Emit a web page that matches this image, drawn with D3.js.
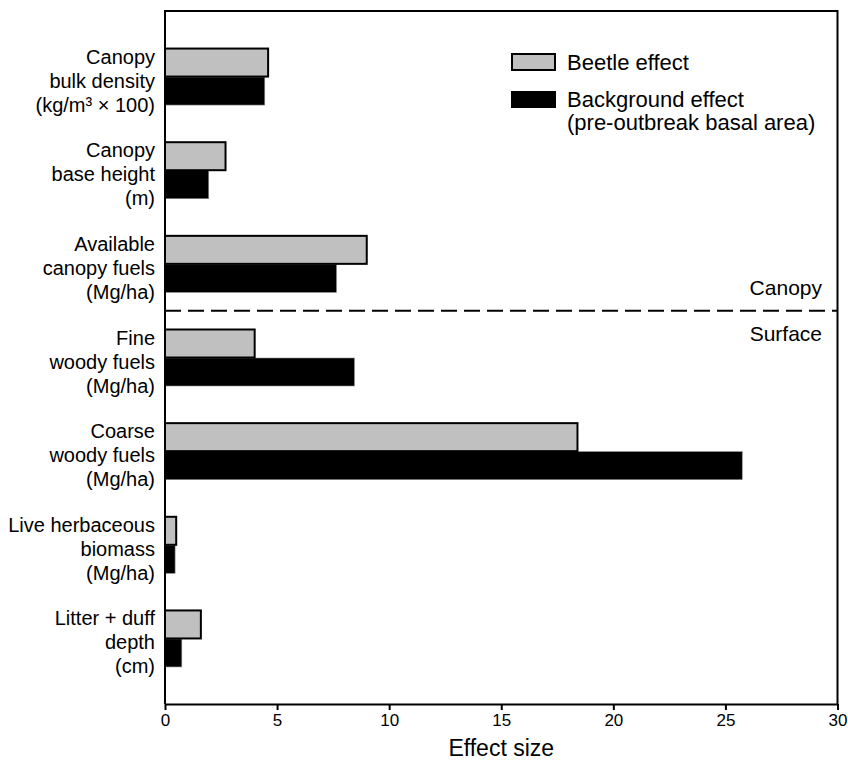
<!DOCTYPE html>
<html>
<head>
<meta charset="utf-8">
<script src="https://cdn.jsdelivr.net/npm/d3@7"></script>
<style>
  html, body { margin: 0; padding: 0; background: #fff; }
  svg { display: block; font-family: "Liberation Sans", Arial, Helvetica, sans-serif; }
</style>
</head>
<body>
<svg id="chart" width="848" height="760"></svg>
<script>
// Fuel variables (three-line labels) and their effect sizes
const categories = [
  ["Canopy", "bulk density", "(kg/m\u00B3 \u00D7 100)"],
  ["Canopy", "base height", "(m)"],
  ["Available", "canopy fuels", "(Mg/ha)"],
  ["Fine", "woody fuels", "(Mg/ha)"],
  ["Coarse", "woody fuels", "(Mg/ha)"],
  ["Live herbaceous", "biomass", "(Mg/ha)"],
  ["Litter + duff", "depth", "(cm)"]
];
const beetleEffect = [4.6, 2.7, 9.0, 4.0, 18.4, 0.5, 1.6];
const backgroundEffect = [4.45, 1.95, 7.65, 8.45, 25.75, 0.45, 0.75];
const xTicks = [0, 5, 10, 15, 20, 25, 30];
const seriesNames = ["Beetle effect", "Background effect"];
const seriesNote = "(pre-outbreak basal area)";
const groupLabels = ["Canopy", "Surface"];
const canopyCount = 3;

const svg = d3.select("#chart");
const plotL = 165, plotR = 837.5, plotT = 11, plotB = 704;
const barH = 28;

const x = d3.scaleLinear().domain([0, 30]).range([plotL, plotR]);
const y = d3.scalePoint()
  .domain(d3.range(categories.length))
  .range([plotT, plotB])
  .padding(0.7);

// Bars: beetle above the centre line, background below
const g = svg.append("g");
categories.forEach((c, i) => {
  const cy = y(i);
  g.append("rect")
    .attr("x", x(0)).attr("y", cy + 0.5)
    .attr("width", x(backgroundEffect[i]) - x(0)).attr("height", barH)
    .attr("fill", "#000")
    .attr("stroke", "#888").attr("stroke-width", 0.6);
  g.append("rect")
    .attr("x", x(0)).attr("y", cy - barH)
    .attr("width", x(beetleEffect[i]) - x(0)).attr("height", barH)
    .attr("fill", "#c0c0c0")
    .attr("stroke", "#000").attr("stroke-width", 2);
});

// Category labels
categories.forEach((lines, i) => {
  const t = svg.append("text")
    .attr("text-anchor", "end")
    .attr("font-size", 20)
    .attr("fill", "#000");
  lines.forEach((ln, k) => {
    t.append("tspan")
      .attr("x", 155)
      .attr("y", y(i) + 4 + (k - 1) * 24)
      .attr("dy", "0.35em")
      .text(ln);
  });
});

// Divider between canopy and surface fuels
const divY = (y(canopyCount - 1) + y(canopyCount)) / 2;
svg.append("line")
  .attr("x1", plotL).attr("x2", plotR)
  .attr("y1", divY).attr("y2", divY)
  .attr("stroke", "#000").attr("stroke-width", 2)
  .attr("stroke-dasharray", "16,7");
svg.append("text")
  .attr("x", 822).attr("y", divY - 23).attr("dy", "0.35em")
  .attr("text-anchor", "end").attr("font-size", 21)
  .text(groupLabels[0]);
svg.append("text")
  .attr("x", 822).attr("y", divY + 23).attr("dy", "0.35em")
  .attr("text-anchor", "end").attr("font-size", 21)
  .text(groupLabels[1]);

// Frame: left axis, top and right borders
svg.append("path")
  .attr("d", `M${plotL},${plotB}V${plotT}H${plotR}V${plotB}`)
  .attr("fill", "none").attr("stroke", "#000").attr("stroke-width", 2);

// Bottom axis
const xAxis = svg.append("g")
  .attr("transform", `translate(0,${plotB})`)
  .call(d3.axisBottom(x).tickValues(xTicks).tickSize(6).tickPadding(4).tickSizeOuter(0));
xAxis.select(".domain").attr("stroke-width", 2);
xAxis.selectAll(".tick line").attr("stroke-width", 2);
xAxis.selectAll(".tick text")
  .attr("font-size", 17)
  .attr("font-family", "'Liberation Sans', Arial, sans-serif")
  .attr("fill", "#000");

svg.append("text")
  .attr("x", (plotL + plotR) / 2).attr("y", 748).attr("dy", "0.35em")
  .attr("text-anchor", "middle").attr("font-size", 23)
  .text("Effect size");

// Legend
const lg = svg.append("g");
lg.append("rect").attr("x", 512).attr("y", 54).attr("width", 43).attr("height", 16)
  .attr("fill", "#c0c0c0").attr("stroke", "#000").attr("stroke-width", 2);
lg.append("text").attr("x", 567).attr("y", 62).attr("dy", "0.35em")
  .attr("font-size", 22).text(seriesNames[0]);
lg.append("rect").attr("x", 511).attr("y", 91).attr("width", 45).attr("height", 17)
  .attr("fill", "#000");
lg.append("text").attr("x", 567).attr("y", 99).attr("dy", "0.35em")
  .attr("font-size", 22).text(seriesNames[1]);
lg.append("text").attr("x", 567).attr("y", 122).attr("dy", "0.35em")
  .attr("font-size", 22).text(seriesNote);
</script>
</body>
</html>
